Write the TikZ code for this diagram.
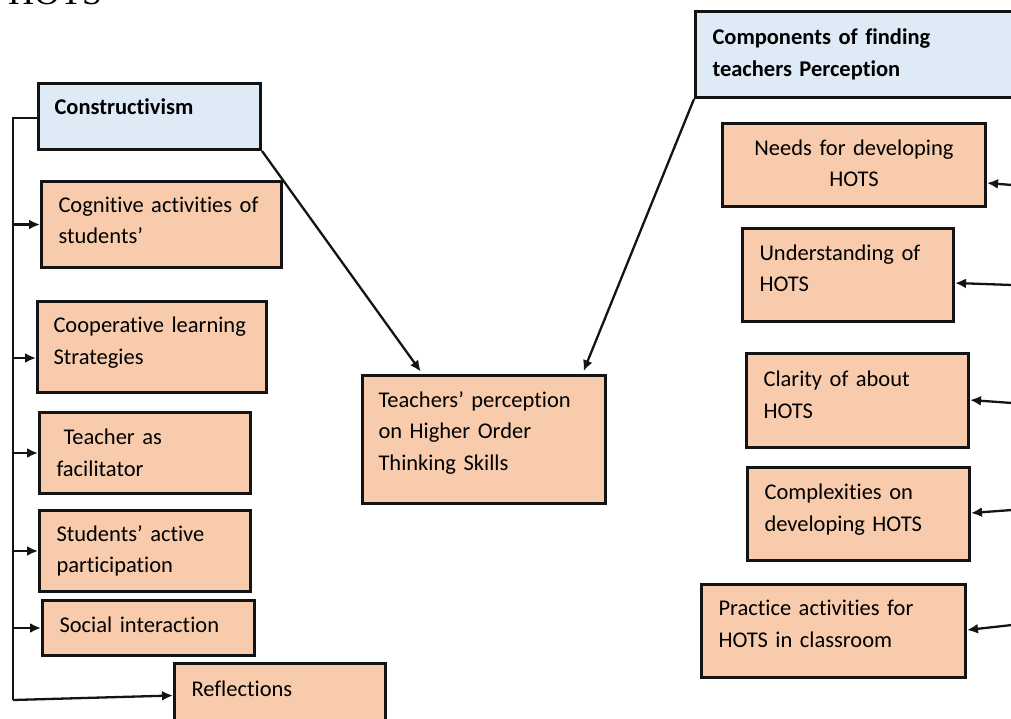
\documentclass[tikz,border=0pt]{standalone}
\usepackage{fontspec}
\setmainfont{Carlito}[Ligatures=NoCommon]
\newfontfamily\headfont{Liberation Serif}
\usetikzlibrary{arrows.meta, positioning, calc}
\definecolor{boxorange}{RGB}{248,203,173}
\definecolor{boxblue}{RGB}{222,235,247}
\definecolor{boxline}{RGB}{20,20,20}
\tikzset{
  headbox/.style={rectangle, draw=boxline, fill=boxblue, line width=3pt,
    anchor=north west, align=left, inner xsep=16pt,
    font=\fontsize{22.5}{31.5}\selectfont\bfseries},
  itembox/.style={rectangle, draw=boxline, fill=boxorange, line width=3pt,
    anchor=north west, align=left, inner xsep=17pt,
    font=\fontsize{22.5}{31.5}\selectfont},
  lift/.style={text depth=#1},
  arrow/.style={-{Latex[length=11pt,width=10pt]}, line width=2.3pt, color=boxline},
  line/.style={line width=2.3pt, color=boxline}
}

\begin{document}
\begin{tikzpicture}[x=1pt, y=-1pt]
  \useasboundingbox (0,0) rectangle (1011,719);
  \clip (0,0) rectangle (1011,719);
  \node[font=\headfont\fontsize{36}{36}\selectfont, anchor=base west, inner sep=0pt] (title) at (8,4.5) {HOTS};
  % left side
  \node[headbox, text width=190pt, minimum height=66pt, lift=20pt] (con) at (37,82) {Constructivism};
  \node[itembox, text width=206pt, minimum height=86pt, lift=39.5pt] (cog) at (40,180) {Cognitive activities of\\students’};
  \node[itembox, text width=197pt, minimum height=91pt, inner xsep=16pt, lift=44.5pt] (coop) at (36,300) {Cooperative learning\\Strategies};
  \node[itembox, text width=177pt, minimum height=81pt] (fac) at (38,411) {\hspace{7pt}Teacher as\\facilitator};
  \node[itembox, text width=177pt, minimum height=81pt] (part) at (38,509) {Students’ active\\participation};
  \node[itembox, text width=178pt, minimum height=55pt, lift=6pt] (soc) at (41,599) {Social interaction};
  \node[itembox, text width=177pt, minimum height=64pt, lift=14pt] (refl) at (173,662) {Reflections};
  % centre
  \node[itembox, text width=211pt, minimum height=128pt, inner xsep=16pt, lift=80pt] (tp) at (361,374) {Teachers’ perception\\on Higher Order\\Thinking Skills};
  % right side
  \node[headbox, text width=312pt, minimum height=86pt, inner xsep=17pt] (comp) at (694,10) {Components of finding\\teachers Perception};
  \node[itembox, text width=229pt, minimum height=83pt, align=center, lift=35.5pt] (needs) at (721,122) {Needs for developing\\HOTS};
  \node[itembox, text width=177pt, minimum height=93pt, lift=45.5pt] (under) at (741,227) {Understanding of\\HOTS};
  \node[itembox, text width=188pt, minimum height=94pt, lift=43.5pt] (clar) at (745,352) {Clarity of about\\HOTS};
  \node[itembox, text width=188pt, minimum height=93pt, lift=44.5pt] (compl) at (746,466) {Complexities on\\developing HOTS};
  \node[itembox, text width=230pt, minimum height=93pt, lift=45.5pt] (prac) at (700,583) {Practice activities for\\HOTS in classroom};

  % left bracket
  \coordinate (spinetop) at (13,118);
  \coordinate (spinebot) at (13,700);
  \draw[line] (con.west |- spinetop) -- (spinetop) -- (spinebot);
  \draw[arrow] (spinebot) -- (refl.west);
  \draw[arrow] (spinetop |- cog.west) -- (cog.west);
  \draw[arrow] ($(spinetop |- coop.west)+(0,11)$) -- ($(coop.west)+(0,11)$);
  \draw[arrow] (spinetop |- fac.west) -- (fac.west);
  \draw[arrow] (spinetop |- part.west) -- (part.west);
  \draw[arrow] (spinetop |- soc.west) -- (soc.west);

  % into the centre
  \draw[arrow, shorten >=3pt] (con.south east) -- ($(tp.north west)!0.25!(tp.north east)$);
  \draw[arrow, shorten >=3pt] (comp.south west) -- ($(tp.north west)!0.9!(tp.north east)$);

  % from the right edge
  \coordinate (in1) at (1012,185);
  \coordinate (in2) at (1012,285);
  \coordinate (in3) at (1012,403);
  \coordinate (in4) at (1012,510);
  \coordinate (in5) at (1012,625);
  \draw[arrow] (in1) -- ($(needs.north east)+(0,61)$);
  \draw[arrow] (in2) -- ($(under.north east)+(0,56)$);
  \draw[arrow] (in3) -- ($(clar.north east)+(0,48)$);
  \draw[arrow] (in4) -- ($(compl.north east)+(0,47)$);
  \draw[arrow] (in5) -- ($(prac.north east)+(0,47)$);
\end{tikzpicture}
\end{document}
